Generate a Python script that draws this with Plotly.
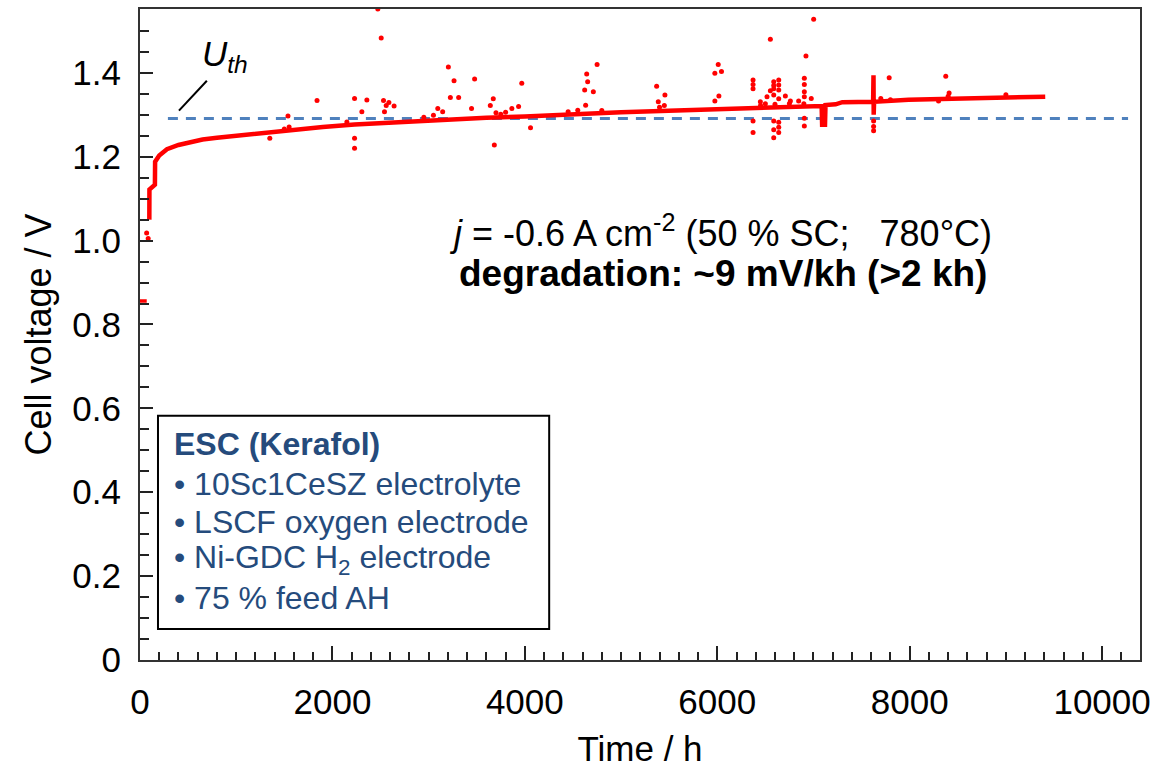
import plotly.graph_objects as go

# Start-up reading before the cell was brought to operating point
startup_time_h = [0, 70]
startup_voltage = [0.856, 0.856]

# Main cell-voltage trace (time in h, voltage in V)
time_h = [97, 98, 155, 157, 200, 280, 400, 520, 650, 800, 1000, 1200, 1400, 1660,
          1900, 2230, 2600, 2905, 3300, 3600, 4000, 4290, 4700, 5000, 5363, 5700,
          6050, 6400, 6743, 7054, 7085, 7090, 7120, 7125, 7158, 7230, 7300, 7573,
          7620, 7624, 7626, 7630, 7988, 8506, 9025, 9409]
voltage = [1.050, 1.122, 1.133, 1.188, 1.203, 1.218, 1.228, 1.234, 1.241, 1.245,
           1.250, 1.254, 1.258, 1.264, 1.271, 1.277, 1.282, 1.286, 1.290, 1.293,
           1.296, 1.298, 1.303, 1.306, 1.309, 1.312, 1.314, 1.316, 1.318, 1.321,
           1.321, 1.276, 1.276, 1.323, 1.324, 1.325, 1.330, 1.330, 1.331, 1.394,
           1.300, 1.331, 1.336, 1.339, 1.3415, 1.343]

# Scattered individual readings
outlier_time_h = [69, 85, 1349, 1538, 1840, 2230, 2230, 2230, 2306, 2358, 2472, 2507,
                  2531, 2541, 2559, 2587, 2641, 3095, 3146, 3205, 3226, 3264, 3312,
                  3446, 3478, 3641, 3672, 3683, 3865, 3935, 3968, 4059, 4622, 4632,
                  4643, 4653, 4712, 4751, 5370, 5387, 5456, 5975, 5975, 6010, 6017,
                  6044, 6372, 6372, 6372, 6372, 6372, 6448, 6517, 6552, 6552, 6587,
                  6587, 6587, 6587, 6587, 6587, 6587, 6639, 6639, 6639, 6639, 6639,
                  6639, 6639, 6708, 6760, 6846, 6905, 6905, 6905, 6905, 6905, 6905,
                  6922, 6977, 7002, 7625, 7625, 7625, 7787, 8375, 8410,
                  1500, 1550, 2150, 2950, 3050, 3700, 3750, 3800, 4450, 4550, 4800,
                  5400, 5450, 6450, 6500, 6600, 6750, 6900, 7700, 7800, 8300, 8400,
                  9000]
outlier_voltage = [1.018, 1.005, 1.244, 1.297, 1.334, 1.339, 1.244, 1.220, 1.307,
                   1.335, 1.552, 1.483, 1.334, 1.307, 1.322, 1.329, 1.321, 1.315,
                   1.307, 1.414, 1.341, 1.381, 1.341, 1.315, 1.385, 1.322, 1.338,
                   1.228, 1.315, 1.320, 1.375, 1.269, 1.359, 1.323, 1.397, 1.379,
                   1.355, 1.420, 1.368, 1.331, 1.347, 1.399, 1.333, 1.420, 1.345,
                   1.403, 1.383, 1.372, 1.362, 1.285, 1.258, 1.331, 1.343, 1.480,
                   1.357, 1.379, 1.370, 1.362, 1.347, 1.285, 1.264, 1.245, 1.383,
                   1.371, 1.359, 1.338, 1.282, 1.270, 1.258, 1.345, 1.333, 1.333,
                   1.387, 1.372, 1.355, 1.343, 1.292, 1.273, 1.440, 1.339, 1.528,
                   1.285, 1.272, 1.262, 1.388, 1.392, 1.352,
                   1.266, 1.271, 1.283, 1.294, 1.299, 1.305, 1.301, 1.306, 1.307,
                   1.311, 1.310, 1.318, 1.322, 1.322, 1.326, 1.325, 1.327, 1.326,
                   1.339, 1.336, 1.333, 1.344, 1.348]

# Thermoneutral voltage
u_th = 1.291

x_ticks = [0, 2000, 4000, 6000, 8000, 10000]
x_tick_labels = ["0", "2000", "4000", "6000", "8000", "10000"]
y_ticks = [0, 0.2, 0.4, 0.6, 0.8, 1.0, 1.2, 1.4]
y_tick_labels = ["0", "0.2", "0.4", "0.6", "0.8", "1.0", "1.2", "1.4"]

cell_lines = [
    "<b>ESC (Kerafol)</b>",
    "• 10Sc1CeSZ electrolyte",
    "• LSCF oxygen electrode",
    "• Ni-GDC H<sub>2</sub> electrode",
    "• 75 % feed AH",
]

RED = "#FF0000"
BLUE = "#4F81BD"
NAVY = "#254B7C"
FONT = "Liberation Sans, Arial, sans-serif"

fig = go.Figure()

fig.add_trace(go.Scatter(
    x=[290, 10270], y=[u_th, u_th], mode="lines",
    line=dict(color=BLUE, width=3, dash="10px,8px"), hoverinfo="skip"))

fig.add_trace(go.Scatter(
    x=startup_time_h, y=startup_voltage, mode="lines",
    line=dict(color=RED, width=3.5)))

fig.add_trace(go.Scatter(
    x=time_h, y=voltage, mode="lines",
    line=dict(color=RED, width=4.5)))

fig.add_trace(go.Scatter(
    x=outlier_time_h, y=outlier_voltage, mode="markers",
    marker=dict(color=RED, size=5, line=dict(width=0))))

# Leader line for the U_th label
fig.add_shape(type="line", x0=405, y0=1.310, x1=695, y1=1.381,
              xref="x", yref="y", line=dict(color="black", width=2))

# Cell description box
fig.add_shape(type="rect", x0=187, y0=0.0737, x1=4253, y1=0.5824,
              xref="x", yref="y", line=dict(color="black", width=2),
              fillcolor="white", layer="above")

box_y = [0.5146, 0.4200, 0.3300, 0.2400, 0.1480]
for txt, yy in zip(cell_lines, box_y):
    fig.add_annotation(x=332, y=yy, xref="x", yref="y", text=txt,
                       showarrow=False, xanchor="left", yanchor="middle",
                       font=dict(family=FONT, size=32, color=NAVY))

fig.add_annotation(x=882, y=1.440, xref="x", yref="y",
                   text="<i>U<sub>th</sub></i>", showarrow=False,
                   font=dict(family=FONT, size=35, color="black"))

fig.add_annotation(x=6037, y=1.022, xref="x", yref="y",
                   text="<i>j</i> = -0.6 A cm<sup>-2</sup> (50 % SC;\u00a0\u00a0\u00a0780°C)",
                   showarrow=False, font=dict(family=FONT, size=36, color="black"))
fig.add_annotation(x=6060, y=0.922, xref="x", yref="y",
                   text="<b>degradation: ~9 mV/kh (>2 kh)</b>",
                   showarrow=False, font=dict(family=FONT, size=37, color="black"))

fig.update_layout(
    width=1158, height=772,
    margin=dict(l=140, r=16, t=7, b=112),
    plot_bgcolor="white", paper_bgcolor="white",
    showlegend=False,
    font=dict(family=FONT, color="black"),
)

fig.update_xaxes(
    range=[0, 10394], tickvals=x_ticks, ticktext=x_tick_labels,
    ticks="inside", ticklen=14, tickwidth=2, tickcolor="#222",
    minor=dict(dtick=200, tick0=0, ticks="inside", ticklen=8, tickwidth=2, tickcolor="#222"),
    showline=True, linecolor="#333", linewidth=2, mirror=True,
    showgrid=False, zeroline=False,
    tickfont=dict(family=FONT, size=35, color="black"), ticklabelstandoff=10,
    title=dict(text="Time / h", font=dict(family=FONT, size=35, color="black"), standoff=16),
)
fig.update_yaxes(
    range=[0, 1.5522], tickvals=y_ticks, ticktext=y_tick_labels,
    ticks="inside", ticklen=13, tickwidth=2, tickcolor="#222",
    minor=dict(dtick=0.05, tick0=0, ticks="inside", ticklen=9, tickwidth=2, tickcolor="#222"),
    showline=True, linecolor="#333", linewidth=2, mirror=True,
    showgrid=False, zeroline=False,
    tickfont=dict(family=FONT, size=35, color="black"), ticklabelstandoff=10,
    title=dict(text="Cell voltage / V", font=dict(family=FONT, size=36, color="black"), standoff=10),
)

fig.write_html("out.html")
